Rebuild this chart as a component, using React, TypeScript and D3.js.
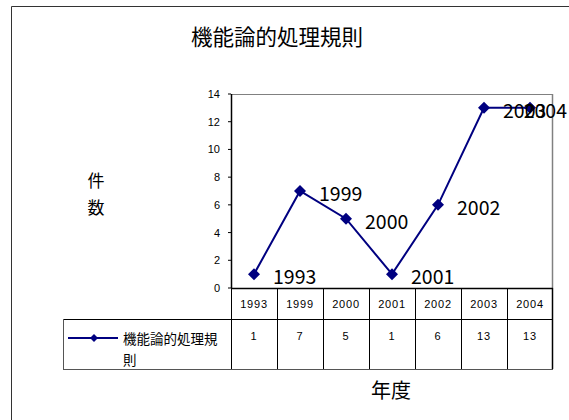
import React from "react";
import * as d3 from "d3";

const title = "機能論的処理規則";
const seriesName = "機能論的処理規則";
const years = ["1993", "1999", "2000", "2001", "2002", "2003", "2004"];
const counts = [1, 7, 5, 1, 6, 13, 13];
const yTicks = [0, 2, 4, 6, 8, 10, 12, 14];
const yTitle = ["件", "数"];
const xTitle = "年度";

const W = 569;
const H = 420;
const plotLeft = 231;
const plotRight = 553;
const plotTop = 94;
const plotBottom = 288;
const headerBottom = 319;
const tableBottom = 369;
const legendLeft = 63;
const navy = "#000080";
const font = "'Noto Sans CJK JP', 'Liberation Sans', sans-serif";

export default function App() {
  const x = d3.scaleBand<string>().domain(years).range([plotLeft, plotRight]).padding(0);
  const y = d3.scaleLinear().domain([0, 14]).range([plotBottom, plotTop]);
  const cx = (yr: string) => (x(yr) as number) + x.bandwidth() / 2;
  const line = d3
    .line<number>()
    .x((_, i) => cx(years[i]))
    .y((d) => y(d));
  const diamond = (px: number, py: number, r: number) =>
    `M${px},${py - r}L${px + r},${py}L${px},${py + r}L${px - r},${py}Z`;

  return (
    <svg
      width={W}
      height={H}
      style={{ position: "absolute", left: 0, top: 0, background: "#fff" }}
      fontFamily={font}
    >
      <rect x={0} y={0} width={W} height={H} fill="#fff" />
      {/* outer frame */}
      <line x1={11.5} y1={6.5} x2={W} y2={6.5} stroke="#333" strokeWidth={1} />
      <line x1={11.5} y1={6.5} x2={11.5} y2={H} stroke="#333" strokeWidth={1} />

      <text x={277} y={44.5} textAnchor="middle" fontSize={21.5} fill="#000">
        {title}
      </text>

      {/* plot frame */}
      <line x1={plotLeft} y1={plotTop + 0.5} x2={plotRight} y2={plotTop + 0.5} stroke="#808080" strokeWidth={1} />
      <line x1={plotRight - 0.5} y1={plotTop} x2={plotRight - 0.5} y2={plotBottom} stroke="#808080" strokeWidth={1.5} />
      <line x1={plotLeft + 0.5} y1={plotTop} x2={plotLeft + 0.5} y2={plotBottom} stroke="#000" strokeWidth={1.5} />

      {/* y ticks */}
      {yTicks.map((t) => (
        <g key={t}>
          <line x1={plotLeft - 3} x2={plotLeft} y1={y(t)} y2={y(t)} stroke="#000" />
          <text x={220} y={y(t) + 4} textAnchor="end" fontSize={11} fill="#000" fontFamily="'Liberation Sans', sans-serif">
            {t}
          </text>
        </g>
      ))}

      {/* y title */}
      {yTitle.map((c, i) => (
        <text key={c} x={96} y={187 + i * 27} textAnchor="middle" fontSize={17} fill="#000">
          {c}
        </text>
      ))}

      {/* series line */}
      <path d={line(counts) || ""} fill="none" stroke={navy} strokeWidth={2} />
      {counts.map((v, i) => (
        <path key={"m" + i} d={diamond(cx(years[i]), y(v), 6)} fill={navy} />
      ))}
      {counts.map((v, i) => {
        const last = i === counts.length - 1;
        return (
          <text
            key={"l" + i}
            x={last ? W - 2 : cx(years[i]) + 19}
            y={y(v) + 10}
            textAnchor={last ? "end" : "start"}
            fontSize={19.5}
            fill="#000"
          >
            {years[i]}
          </text>
        );
      })}

      {/* data table */}
      <line x1={plotLeft} x2={plotRight} y1={plotBottom + 0.5} y2={plotBottom + 0.5} stroke="#000" strokeWidth={1.5} />
      <line x1={legendLeft} x2={plotRight} y1={headerBottom + 0.5} y2={headerBottom + 0.5} stroke="#000" strokeWidth={1} />
      <line x1={legendLeft} x2={plotRight} y1={tableBottom + 0.5} y2={tableBottom + 0.5} stroke="#555" strokeWidth={1.2} />
      <line x1={legendLeft + 0.5} x2={legendLeft + 0.5} y1={headerBottom} y2={tableBottom} stroke="#555" strokeWidth={1} />
      {years.map((yr) => (
        <line
          key={"v" + yr}
          x1={(x(yr) as number) + 0.5}
          x2={(x(yr) as number) + 0.5}
          y1={plotBottom}
          y2={tableBottom}
          stroke="#000"
          strokeWidth={1}
        />
      ))}
      <line x1={plotRight - 0.5} x2={plotRight - 0.5} y1={plotBottom} y2={tableBottom} stroke="#000" strokeWidth={1.5} />
      {years.map((yr) => (
        <text key={"h" + yr} x={cx(yr)} y={308} textAnchor="middle" fontSize={11} letterSpacing={0.8} fill="#000" fontFamily="'Liberation Sans', sans-serif">
          {yr}
        </text>
      ))}
      {counts.map((v, i) => (
        <text key={"d" + i} x={cx(years[i])} y={340} textAnchor="middle" fontSize={11} letterSpacing={0.8} fill="#000" fontFamily="'Liberation Sans', sans-serif">
          {v}
        </text>
      ))}
      {/* legend key */}
      <line x1={68} x2={118} y1={338} y2={338} stroke={navy} strokeWidth={2} />
      <path d={diamond(94, 338, 4)} fill={navy} />
      <text x={123} y={344} fontSize={13.5} fill="#000">
        {seriesName.slice(0, 7)}
      </text>
      <text x={123} y={365} fontSize={13.5} fill="#000">
        {seriesName.slice(7)}
      </text>

      <text x={391} y={398} textAnchor="middle" fontSize={20} fill="#000">
        {xTitle}
      </text>
    </svg>
  );
}
